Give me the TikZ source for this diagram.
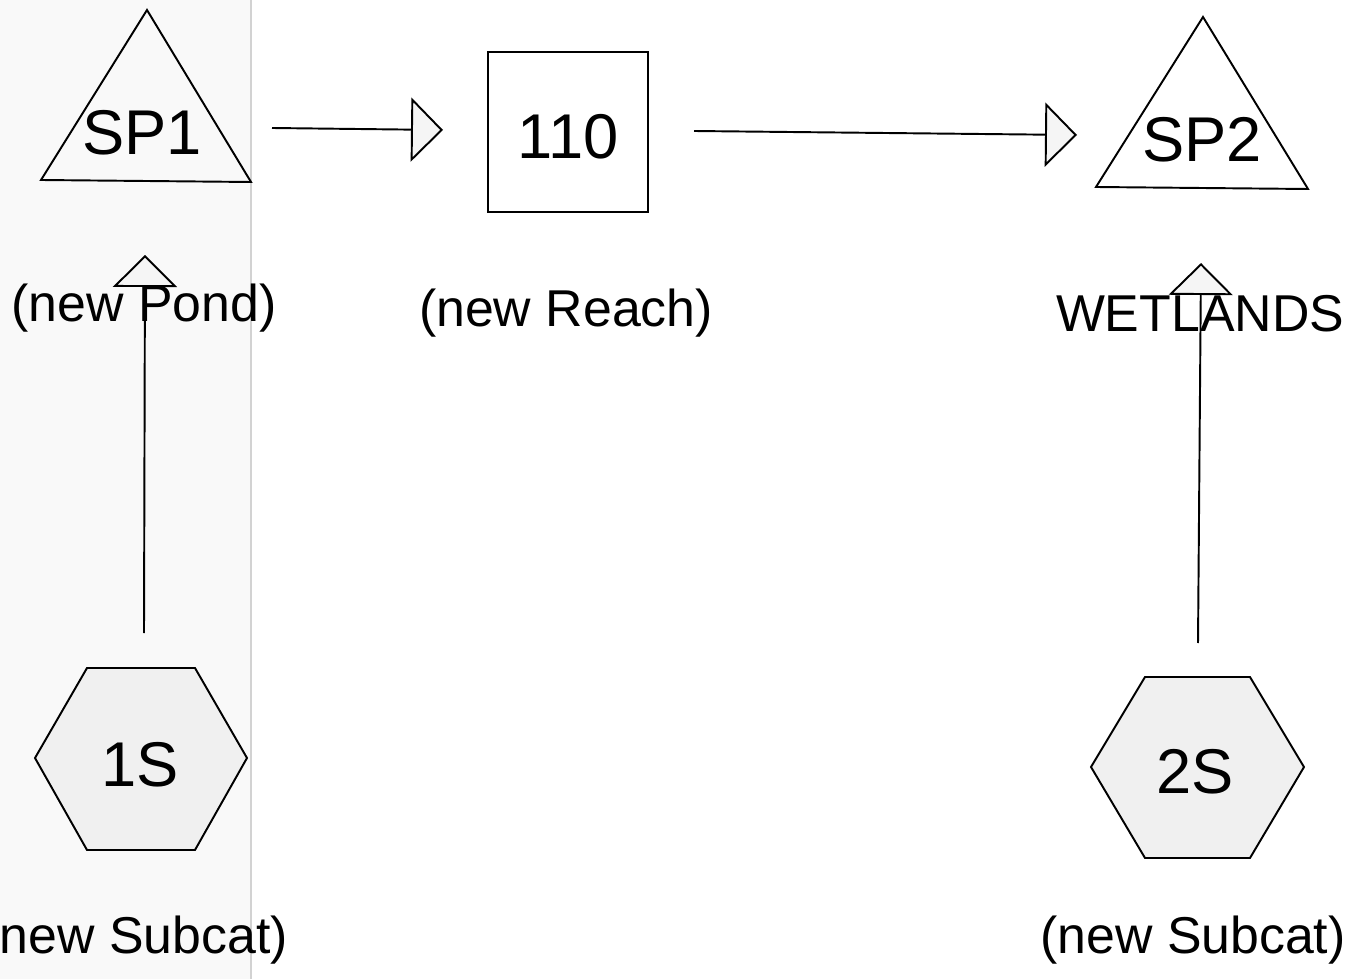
\documentclass[tikz,border=0pt]{standalone}
\usepackage{fontspec}
\setmainfont{Liberation Sans}
\usetikzlibrary{arrows.meta}
\begin{document}
\begin{tikzpicture}[x=0.02cm,y=-0.02cm,line width=1.1pt,line join=miter,
  lbl/.style={font=\fontsize{36}{40}\selectfont,inner sep=0,anchor=base},
  capt/.style={font=\fontsize{29.5}{34}\selectfont,inner sep=0,anchor=base},
  shapeline/.style={draw=black,line width=1.1pt},
  hexfill/.style={shapeline,fill=gray!12},
  flow/.style={draw=black,line width=1.1pt,-{Triangle[length=0.64cm,width=1.28cm,fill=gray!8,line width=1.1pt]}}]
\useasboundingbox (0,0) rectangle (1352,979);
% scan background stripe
\fill[gray!5] (0,0) rectangle (252,979);
\draw[gray!35,line width=0.8pt] (251,0) -- (251,979);

% SP1 triangle
\draw[shapeline] (147,10) -- (251,182) -- (41,180) -- cycle;
\node[lbl] (sp1) at (142,155) {SP1};
% 110 box
\draw[shapeline] (488,52) rectangle (648,212);
\node[lbl] (r110) at (568,159) {110};
% SP2 triangle
\draw[shapeline] (1203,17) -- (1308,189) -- (1096,187) -- cycle;
\node[lbl] (sp2) at (1202,162) {SP2};
% hexagons
\draw[hexfill] (87,668) -- (195,668) -- (247,758) -- (195,850) -- (87,850) -- (35,758) -- cycle;
\node[lbl] (s1) at (140,786) {1S};
\draw[hexfill] (1145,677) -- (1250,677) -- (1304,767) -- (1250,858) -- (1145,858) -- (1091,767) -- cycle;
\node[lbl] (s2) at (1195,793) {2S};

% captions
\node[capt] (cpond) at (144,322) {(new Pond)};
\node[capt] (creach) at (566,327) {(new Reach)};
\node[capt] (cwet) at (1200,332) {WETLANDS};
\node[capt,anchor=base east] (csub1) at (289,953) {(new Subcat)};
\node[capt] (csub2) at (1193,953) {(new Subcat)};

% connector end points
\coordinate (a1) at (272,128);
\coordinate (b1) at (443,130);
\coordinate (a2) at (694,131);
\coordinate (b2) at (1077,135);
\coordinate (a3) at (144,633);
\coordinate (b3) at (145,255);
\coordinate (a4) at (1198,643);
\coordinate (b4) at (1201,263);

\draw[flow] (a1) -- (b1);
\draw[flow] (a2) -- (b2);
\draw[flow] (a3) -- (b3);
\draw[flow] (a4) -- (b4);
\end{tikzpicture}
\end{document}
